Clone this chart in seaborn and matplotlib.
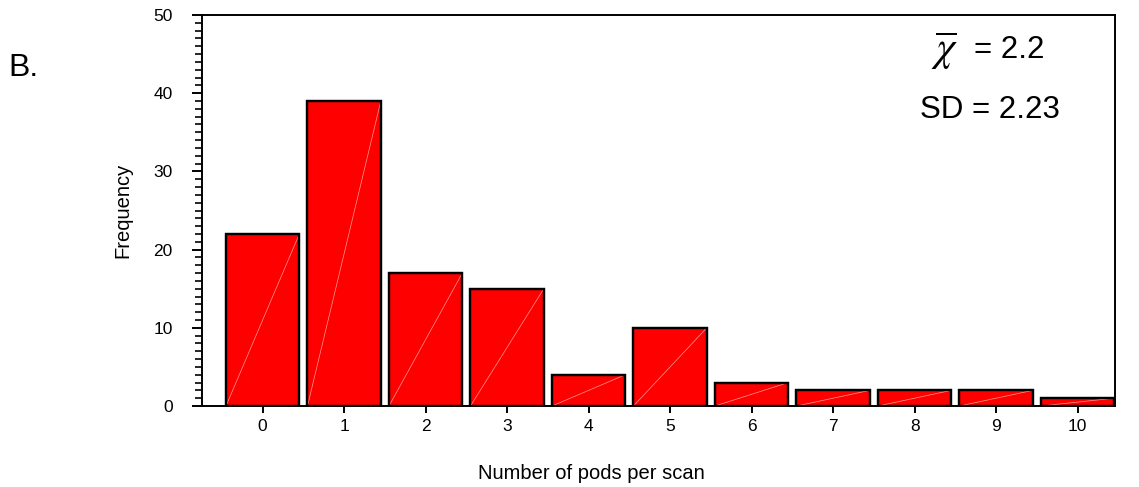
import matplotlib
matplotlib.use("Agg")
import matplotlib.pyplot as plt
from matplotlib.ticker import MultipleLocator
import seaborn as sns
import pandas as pd

# Frequency of pods counted per scan
pods_per_scan = [0, 1, 2, 3, 4, 5, 6, 7, 8, 9, 10]
frequency = [22, 39, 17, 15, 4, 10, 3, 2, 2, 2, 1]
mean_symbol = r"$\overline{\chi}$"
mean_value = "= 2.2"
sd_text = "SD = 2.23"

sns.set_theme(style="ticks")
plt.rcParams["font.family"] = ["Liberation Sans", "DejaVu Sans"]
plt.rcParams["mathtext.fontset"] = "stix"
plt.rcParams["text.color"] = "black"
plt.rcParams["axes.labelcolor"] = "black"
plt.rcParams["xtick.color"] = "black"
plt.rcParams["ytick.color"] = "black"

df = pd.DataFrame({"pods": pods_per_scan, "freq": frequency})

fig = plt.figure(figsize=(11.39, 4.87), dpi=100)
ax = fig.add_axes([0.1773, 0.1663, 0.9790 - 0.1773, 0.9692 - 0.1663])

sns.barplot(data=df, x="pods", y="freq", color="#ff0000", saturation=1,
            width=0.9, edgecolor="black", linewidth=1.6, ax=ax)

# faint diagonal seam across each filled bar, with the outline redrawn on top
bars = list(ax.patches)
for bar in bars:
    x0, y0 = bar.get_x(), bar.get_y()
    w, h = bar.get_width(), bar.get_height()
    z = bar.get_zorder()
    ax.plot([x0, x0 + w], [y0, y0 + h], color="#ff9a9a", lw=0.5,
            zorder=z + 0.1)
    ax.add_patch(plt.Rectangle((x0, y0), w, h, fill=False, edgecolor="black",
                               linewidth=1.6, zorder=z + 0.2))

ax.set_xlim(-0.745, 10.46)
ax.set_ylim(0, 50)
ax.yaxis.set_major_locator(MultipleLocator(10))
ax.yaxis.set_minor_locator(MultipleLocator(1))

for side in ["left", "right", "top", "bottom"]:
    ax.spines[side].set_visible(True)
    ax.spines[side].set_linewidth(1.4)
    ax.spines[side].set_color("black")

ax.tick_params(axis="y", which="major", direction="out", length=7, width=1.4,
               labelsize=12.5, pad=14)
ax.tick_params(axis="y", which="minor", direction="out", length=5, width=1.2)
ax.tick_params(axis="x", which="major", direction="out", length=5, width=1.4,
               labelsize=12.5, pad=4)

ax.set_xlabel("Number of pods per scan", fontsize=14.5)
ax.xaxis.set_label_coords(0.427, -0.148)
ax.set_ylabel("Frequency", fontsize=14.5, labelpad=15.5)

ax.text(0.813, 0.91, mean_symbol, transform=ax.transAxes, fontsize=30,
        ha="center", va="center")
ax.text(0.923, 0.91, mean_value, transform=ax.transAxes, fontsize=22.5,
        ha="right", va="center")
ax.text(0.94, 0.757, sd_text, transform=ax.transAxes, fontsize=22.5,
        ha="right", va="center")

fig.text(0.007, 0.86, "B.", fontsize=23, ha="left", va="center")

fig.savefig("out.png", dpi=100)
